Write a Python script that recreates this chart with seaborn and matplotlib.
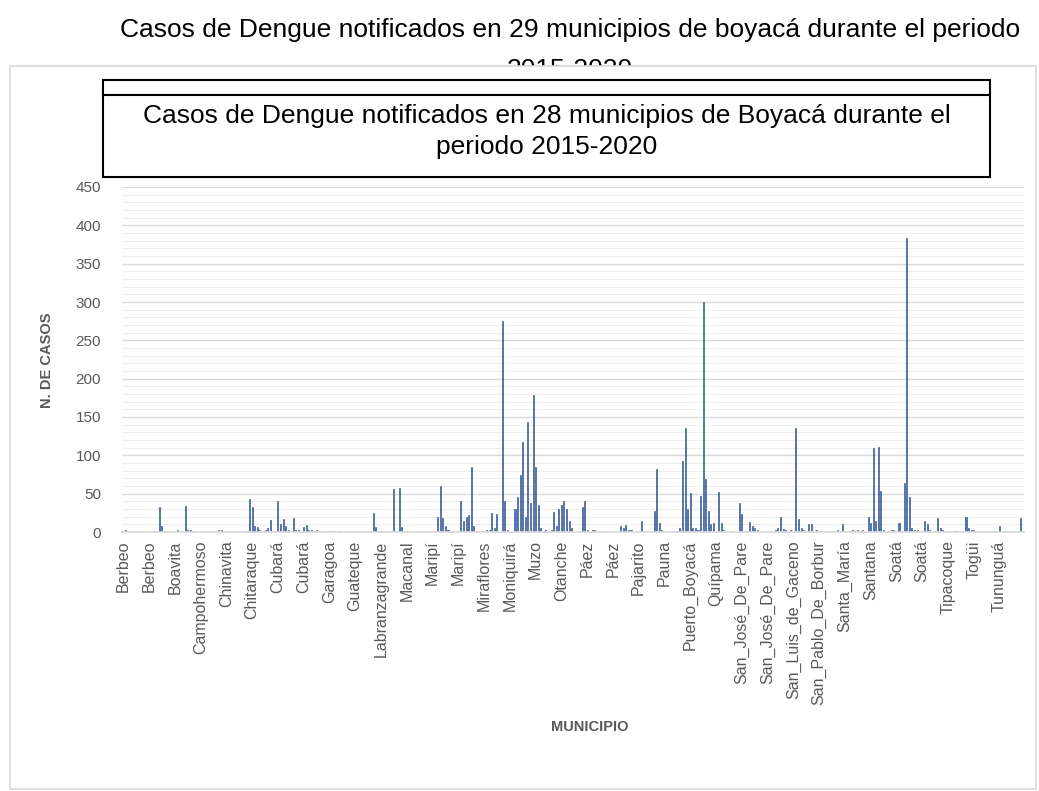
import numpy as np
import pandas as pd
import seaborn as sns
import matplotlib
matplotlib.use("Agg")
import matplotlib.pyplot as plt
from matplotlib.patches import Rectangle
from matplotlib.lines import Line2D
from matplotlib.ticker import MultipleLocator

# ---------------- data ----------------
titulo_externo = "Casos de Dengue notificados en 29 municipios de boyacá durante el periodo"
titulo_externo_2 = "2015-2020"
titulo_linea1 = "Casos de Dengue notificados en 28 municipios de Boyacá durante el"
titulo_linea2 = "periodo 2015-2020"
eje_y = "N. DE CASOS"
eje_x = "MUNICIPIO"

# visible category labels (every 10th category is labelled, as in the source chart)
municipios = ["Berbeo", "Berbeo", "Boavita", "Campohermoso", "Chinavita", "Chitaraque",
              "Cubará", "Cubará", "Garagoa", "Guateque", "Labranzagrande", "Macanal",
              "Maripí", "Maripí", "Miraflores", "Moniquirá", "Muzo", "Otanche", "Páez",
              "Páez", "Pajarito", "Pauna", "Puerto_Boyacá", "Quípama", "San_José_De_Pare",
              "San_José_De_Pare", "San_Luis_de_Gaceno", "San_Pablo_De_Borbur", "Santa_María",
              "Santana", "Soatá", "Soatá", "Tipacoque", "Togüi", "Tununguá"]

# cases per category, one row of 10 categories per visible label
casos = [
    [0, 3, 0, 0, 0, 0, 0, 0, 0, 0],
    [0, 0, 0, 0, 33, 8, 0, 0, 0, 0],
    [0, 2, 0, 0, 34, 2, 2, 1, 0, 0],
    [0, 0, 0, 0, 0, 0, 0, 2, 2, 0],
    [0, 0, 0, 0, 0, 0, 0, 0, 1, 43],
    [33, 8, 6, 3, 0, 3, 5, 16, 0, 0],
    [40, 10, 17, 8, 3, 0, 18, 3, 2, 0],
    [7, 9, 3, 2, 0, 2, 0, 0, 0, 0],
    [1, 0, 1, 0, 1, 0, 0, 0, 0, 0],
    [0, 0, 0, 0, 0, 0, 0, 25, 7, 0],
    [0, 0, 0, 0, 0, 56, 0, 58, 6, 0],
    [1, 0, 0, 0, 0, 0, 0, 0, 0, 0],
    [0, 0, 20, 60, 18, 8, 3, 0, 0, 0],
    [0, 40, 15, 20, 22, 85, 8, 0, 0, 0],
    [0, 3, 3, 25, 5, 24, 0, 275, 40, 3],
    [0, 0, 30, 46, 74, 118, 20, 144, 38, 179],
    [85, 35, 5, 0, 3, 0, 2, 26, 8, 30],
    [35, 40, 30, 15, 5, 0, 0, 0, 33, 40],
    [3, 0, 2, 2, 0, 0, 0, 0, 0, 0],
    [0, 0, 0, 8, 5, 9, 3, 2, 0, 0],
    [0, 14, 0, 0, 0, 0, 28, 82, 12, 3],
    [0, 0, 0, 0, 0, 1, 5, 92, 136, 30],
    [51, 5, 5, 3, 47, 300, 69, 28, 10, 12],
    [0, 52, 12, 3, 0, 0, 1, 0, 0, 38],
    [24, 0, 0, 13, 8, 5, 3, 0, 0, 0],
    [0, 0, 0, 2, 5, 20, 4, 3, 0, 2],
    [0, 136, 17, 5, 3, 0, 10, 10, 0, 2],
    [0, 0, 0, 0, 0, 0, 0, 3, 0, 10],
    [0, 0, 0, 3, 0, 3, 0, 3, 0, 20],
    [12, 109, 15, 111, 53, 3, 0, 0, 2, 2],
    [0, 12, 0, 64, 383, 46, 5, 3, 2, 0],
    [0, 14, 10, 3, 0, 0, 18, 5, 2, 0],
    [0, 0, 1, 1, 0, 0, 0, 20, 5, 3],
    [3, 0, 0, 0, 0, 0, 0, 0, 0, 0],
    [8, 0, 0, 0, 0, 0, 0, 0, 18, 0],
]
y_ticks = [0, 50, 100, 150, 200, 250, 300, 350, 400, 450]

# ---------------- table ----------------
valores = [v for fila in casos for v in fila]
n = len(valores)
grupo = [municipios[i // 10] for i in range(n)]
df = pd.DataFrame({"pos": [str(i) for i in range(n)], "casos": valores, "municipio": grupo})

# ---------------- figure ----------------
sns.set_theme(style="white")
plt.rcParams["font.family"] = ["Liberation Sans", "DejaVu Sans"]

W, H = 1039, 791
fig = plt.figure(figsize=(W / 100, H / 100), dpi=100)
fig.patch.set_facecolor("white")


def fx(x):
    return x / W


def fy(y):
    return 1 - y / H


gray_txt = "#595959"

# outer title (partially hidden behind the chart area)
fig.text(fx(570), fy(30), titulo_externo, ha="center", va="center", fontsize=19,
         color="black", zorder=1)
fig.text(fx(570), fy(70), titulo_externo_2, ha="center", va="center", fontsize=19,
         color="black", zorder=1)

# chart area
fig.patches.append(Rectangle((fx(10), fy(789)), fx(1036) - fx(10), fy(66) - fy(789),
                             transform=fig.transFigure, facecolor="white",
                             edgecolor="#d9d9d9", linewidth=1.2, zorder=2))

ax = fig.add_axes([fx(122), fy(532), fx(1024) - fx(122), fy(187) - fy(532)])
ax.set_zorder(3)
ax.patch.set_alpha(0)

sns.barplot(data=df, x="pos", y="casos", color="#4472C4", width=0.4,
            saturation=1, ax=ax, order=df["pos"].tolist(), errorbar=None,
            edgecolor="#34528a", linewidth=0.45)

ax.set_xlim(-0.5, n - 0.5)
ax.set_ylim(0, 450)
ax.set_yticks(y_ticks)
ax.yaxis.set_minor_locator(MultipleLocator(10))
ax.grid(axis="y", which="major", color="#d9d9d9", linewidth=1.0)
ax.grid(axis="y", which="minor", color="#eeeeee", linewidth=0.8)
ax.set_axisbelow(True)
for s in ["top", "right", "left"]:
    ax.spines[s].set_visible(False)
ax.spines["bottom"].set_color("#d9d9d9")

ax.set_xticks(list(range(0, n, 10)))
ax.set_xticklabels(municipios, rotation=90, fontsize=11.5, color=gray_txt)
ax.tick_params(axis="x", length=0, pad=6)
ax.tick_params(axis="y", length=0, labelsize=11, labelcolor=gray_txt, pad=15)
ax.set_xlabel("")
ax.set_ylabel("")

fig.text(fx(47), fy(360), eje_y, rotation=90, ha="center", va="center",
         fontsize=10.5, fontweight="bold", color=gray_txt, zorder=4)
fig.text(fx(590), fy(727), eje_x, ha="center", va="center",
         fontsize=10.5, fontweight="bold", color=gray_txt, zorder=4)

# inner title box
fig.patches.append(Rectangle((fx(103), fy(177)), fx(990) - fx(103), fy(80) - fy(177),
                             transform=fig.transFigure, facecolor="white",
                             edgecolor="black", linewidth=1.5, zorder=5))
fig.lines.append(Line2D([fx(103), fx(990)], [fy(95), fy(95)], transform=fig.transFigure,
                        color="black", linewidth=1.5, zorder=6))
fig.text(fx(547), fy(116), titulo_linea1, ha="center", va="center", fontsize=19,
         color="black", zorder=7)
fig.text(fx(547), fy(147), titulo_linea2, ha="center", va="center", fontsize=19,
         color="black", zorder=7)

fig.savefig("out.png", dpi=100)
